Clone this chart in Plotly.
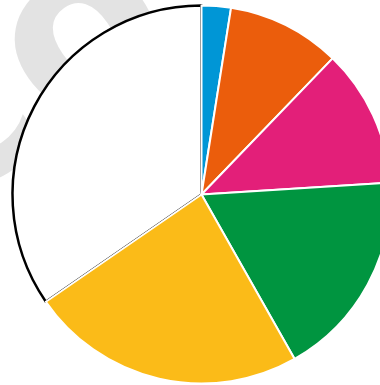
import plotly.graph_objects as go

# data (white slice first so its outline is drawn beneath the neighbours' white borders)
labels = ["Other", "A", "B", "C", "D", "E"]
values = [34.6, 2.5, 9.7, 11.8, 17.8, 23.6]
colors = ["#ffffff", "#0096d6", "#eb5d0c", "#e31f79", "#009540", "#fbbb18"]
line_colors = ["#000000", "#ffffff", "#ffffff", "#ffffff", "#ffffff", "#ffffff"]
line_widths = [2.5, 2, 2, 2, 2, 2]
watermark = "co"

W, H = 400, 385
fig = go.Figure(go.Pie(
    labels=labels, values=values, sort=False, direction="clockwise",
    rotation=360 * (1 - values[0] / sum(values)),
    marker=dict(colors=colors, line=dict(color=line_colors, width=line_widths)),
    textinfo="none", hoverinfo="label+percent",
    domain=dict(x=[12.5 / W, 390.5 / W], y=[1.5 / H, 379.5 / H]),
))

fig.add_shape(type="rect", xref="paper", yref="paper", x0=-0.375, x1=0.425, y0=0.52, y1=1.22,
              line=dict(width=0), fillcolor="rgba(0,0,0,0)", layer="below",
              label=dict(text=watermark, textangle=-35, textposition="middle center",
                         font=dict(family="DejaVu Sans", size=230, color="#e3e3e3", weight="bold")))

fig.update_layout(width=W, height=H, margin=dict(l=0, r=0, t=0, b=0),
                  paper_bgcolor="white", plot_bgcolor="white", showlegend=False)

fig.write_html("out.html", config={"displayModeBar": False},
               post_script="document.body.style.margin='0';document.body.style.overflow='hidden';")
